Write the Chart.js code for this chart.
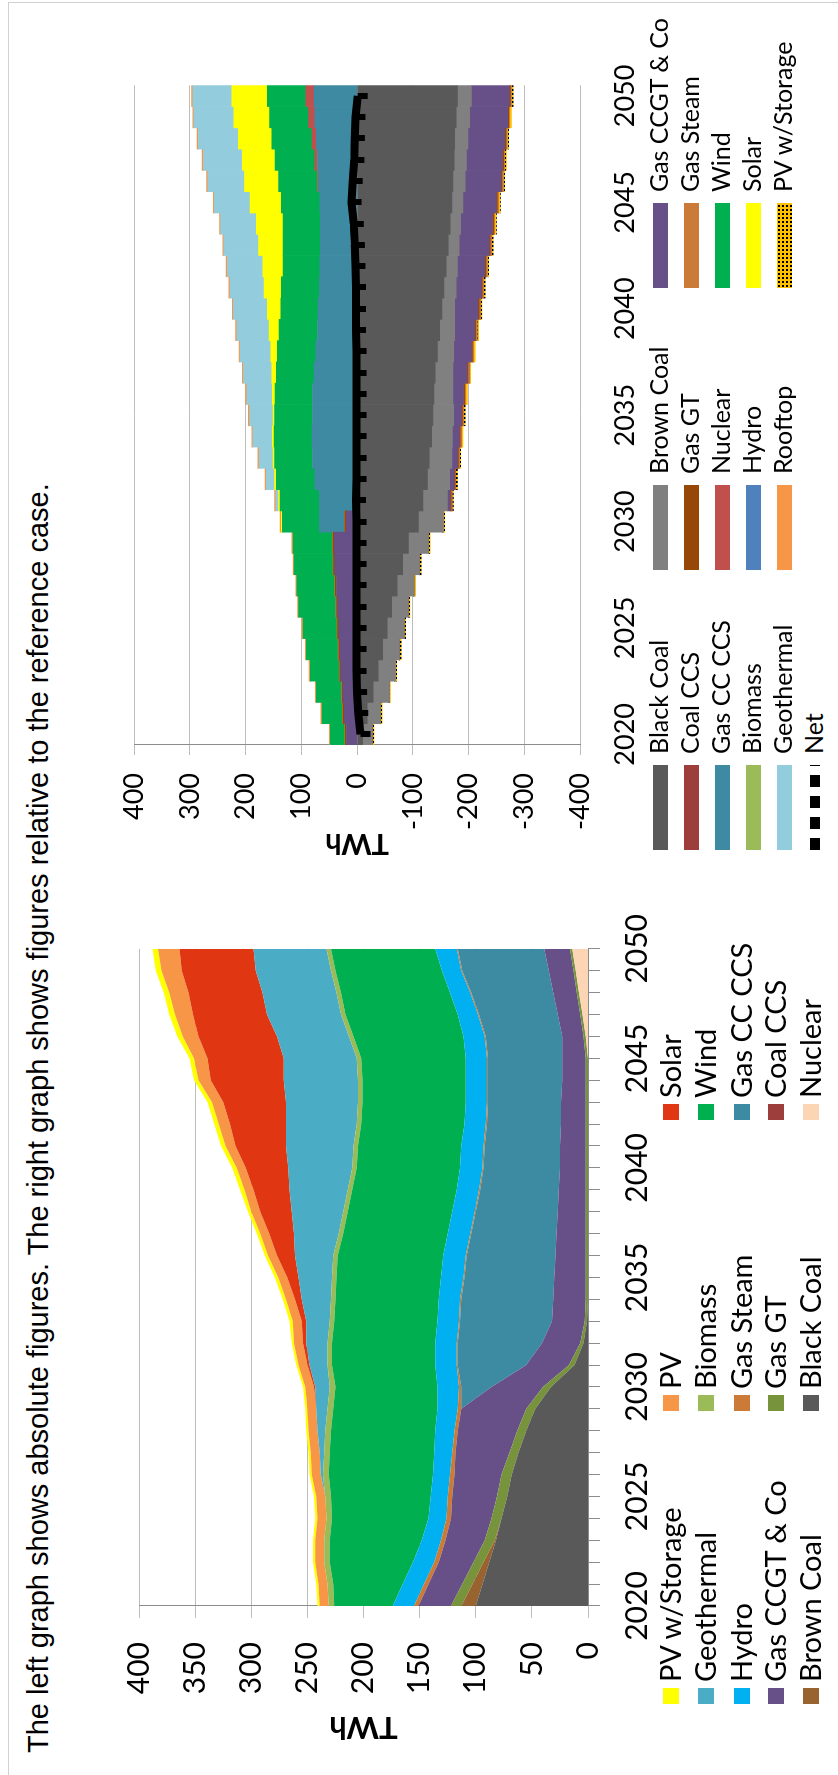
<!DOCTYPE html>
<html>
<head>
<meta charset="utf-8">
<script src="https://cdn.jsdelivr.net/npm/chart.js@4.4.1/dist/chart.umd.min.js"></script>
<style>
  html, body { margin: 0; padding: 0; background: #fff; }
  body { width: 838px; height: 1775px; overflow: hidden; position: relative; }
  .frame { position: absolute; background: #d0d0d0; }
  #land { position: absolute; left: 0; top: 0; width: 1775px; height: 838px;
          transform-origin: 0 0; transform: translate(0, 1775px) rotate(-90deg); }
  #title { position: absolute; left: 22px; top: 24px; white-space: nowrap;
           font-family: "Liberation Sans", Arial, sans-serif; font-size: 29px; line-height: 1; color: #000; }
  canvas { position: absolute; }
  .sw { position: absolute; }
  .lt { position: absolute; white-space: nowrap; font-family: Lato, sans-serif; color: #000; line-height: 1; }
</style>
</head>
<body>
<div class="frame" style="left:8px;top:2px;width:1px;height:1773px"></div>
<div class="frame" style="left:8px;top:2px;width:830px;height:1px"></div>
<div id="land">
  <div id="title">The left graph shows absolute figures. The right graph shows figures relative to the reference case.</div>
  <canvas id="absChart" width="880" height="563" style="left:0;top:97px"></canvas>
  <canvas id="relChart" width="860" height="560" style="left:880px;top:100px"></canvas>
  <div id="legAbs"></div>
  <div id="legRel"></div>
</div>
<script>
// categories
var years = [2020, 2021, 2022, 2023, 2024, 2025, 2026, 2027, 2028, 2029,
             2030, 2031, 2032, 2033, 2034, 2035, 2036, 2037, 2038, 2039,
             2040, 2041, 2042, 2043, 2044, 2045, 2046, 2047, 2048, 2049, 2050];
var absTicks = [0, 50, 100, 150, 200, 250, 300, 350, 400];
var relTicks = [-400, -300, -200, -100, 0, 100, 200, 300, 400];

// left graph, absolute TWh (stack order bottom -> top)
var absNuclear     = [0,0,0,0,0,0,0,0,0,0, 0,0,0,0,0,0,0,0,0,0, 0,0,0,0,0,0,2,5,8,11,14];
var absBlackCoal   = [100,94,88,82,77,72,68,62,55,47, 33,12,4,1,0,0,0,0,0,0, 0,0,0,0,0,0,0,0,0,0,0];
var absBrownCoal   = [13,9,5,1,0,0,0,0,0,0, 0,0,0,0,0,0,0,0,0,0, 0,0,0,0,0,0,0,0,0,0,0];
var absCoalCCS     = [0,0,0,0,0,0,0,0,0,0, 0,0,0,0,0,0,0,0,0,0, 0,0,0,0,0,0,0,0,0,0,0];
var absGasGT       = [9,9,9,9,9,9,9,8,8,8, 7,5,3,2,2,2,2,2,2,2, 2,2,2,2,2,2,2,2,2,2,2];
var absGasCCGT     = [29,30,31,35,36,40,42,48,53,58, 46,38,34,29,29,28,27,26,25,24, 23,23,22,22,21,21,19,20,21,22,23];
var absGasCCCCS    = [0,0,0,0,0,0,0,0,0,0, 27,61,75,82,82,80,79,76,73,70, 68,67,66,65,66,66,68,70,73,77,77];
var absGasSteam    = [4,4,4,4,4,4,4,3,3,3, 2,1,1,1,1,1,1,1,1,1, 1,1,1,1,1,1,1,1,1,1,1];
var absHydro       = [19,19,19,17,16,15,15,16,17,18, 19,19,19,19,19,20,20,20,20,20, 20,20,19,19,19,19,19,18,18,17,19];
var absWind        = [52,62,74,82,86,89,93,93,93,93, 91,92,92,92,92,93,94,93,93,93, 92,92,92,92,92,93,98,100,97,95,93];
var absBiomass     = [5,5,5,5,5,5,5,5,5,5, 5,4,4,4,4,4,4,4,4,4, 4,4,4,4,4,4,4,4,4,4,4];
var absGeothermal  = [0,0,0,0,0,0,2,4,7,10, 13,16,19,21,26,30,34,40,46,52, 57,60,63,64,66,65,64,66,66,67,65];
var absSolar       = [0,0,0,0,0,0,0,0,0,0, 1,2,3,4,6,10,16,22,28,32, 38,45,50,56,65,68,70,66,66,66,66];
var absPV          = [8,8,8,8,8,8,8,8,8,8, 8,8,8,8,8,8,8,8,8,8, 8,9,10,10,11,12,14,16,17,18,19];
var absPVStorage   = [2,2,2,2,2,2,2,2,2,2, 2,2,2,3,3,3,3,3,3,4, 4,4,4,4,4,4,5,5,5,5,5];

// right graph, TWh relative to the reference case
var relBlackCoal   = [-10,-18,-29,-38,-46,-54,-62,-72,-82,-92, -110,-118,-126,-130,-134,-136,-138,-140,-144,-148, -152,-156,-160,-164,-167,-170,-172,-174,-175,-178,-180];
var relBrownCoal   = [-17,-24,-28,-30,-30,-30,-30,-30,-30,-36, -44,-44,-40,-40,-37,-37,-34,-32,-29,-27, -23,-22,-20,-19,-19,-20,-22,-22,-24,-24,-25];
var relGasCCGT     = [19,23,25,29,31,33,35,37,40,41, 20,-5,-8,-10,-12,-14,-19,-25,-32,-36, -42,-45,-49,-54,-57,-60,-64,-65,-66,-68,-68];
var relCoalCCS     = [0,0,0,0,0,0,0,0,0,0, 0,0,0,0,0,0,0,0,0,0, 0,0,0,0,0,0,0,0,0,0,0];
var relGasGT       = [2,2,2,2,2,2,2,2,2,2, 2,-2,-2,-2,-2,-2,-2,-2,-2,-2, -2,-2,-2,-2,-2,-2,-2,-2,-2,-2,-2];
var relGasSteam    = [1,1,1,1,1,1,1,1,1,1, 1,-1,-1,-1,-2,-2,-2,-2,-2,-2, -2,-2,-2,-2,-2,-2,-2,-2,-2,-2,-2];
var relGasCCCCS    = [0,0,0,0,0,0,0,0,0,0, 45,68,76,80,81,80,80,77,74,71, 70,68,67,66,66,67,69,71,73,76,77];
var relNuclear     = [0,0,0,0,0,0,0,0,0,0, 0,0,0,0,0,0,0,0,0,0, 0,0,0,0,0,0,2,5,8,11,15];
var relWind        = [26,37,45,52,57,61,67,68,70,71, 66,70,69,68,68,68,67,68,69,69, 67,68,66,67,67,69,70,71,72,70,69];
var relBiomass     = [0,0,0,0,0,0,0,0,0,0, 0,0,0,0,0,0,0,0,0,0, 0,0,0,0,0,0,0,0,0,0,0];
var relHydro       = [0,0,0,0,0,0,0,0,0,0, 0,0,0,0,0,0,0,0,0,0, 0,0,0,0,0,0,0,0,0,0,0];
var relSolar       = [0,0,0,0,0,0,0,0,0,0, 2,3,3,3,3,3,5,8,12,18, 24,31,36,44,48,56,61,59,60,64,64];
var relGeothermal  = [0,0,0,0,0,0,0,0,0,0, 0,5,15,25,35,42,46,51,55,58, 61,61,64,62,64,64,66,70,72,72,70];
var relRooftop     = [2,2,2,2,2,2,2,2,2,2, 2,2,2,2,2,2,2,2,2,2, 2,2,2,2,2,2,2,2,2,2,2];
var relPVStorage   = [-3,-3,-3,-3,-3,-3,-3,-3,-3,-3, -3,-3,-3,-3,-3,-3,-3,-3,-3,-3, -3,-3,-3,-3,-3,-3,-3,-3,-3,-3,-3];
var relNet         = [-6,-2,0,1,1,1,1,1,1,1, 1,2,1,1,1,1,1,1,1,2, 2,2,3,4,6,10,8,5,4,3,-1];

// series lists
var absSeries = [
  ['Nuclear', absNuclear], ['Black Coal', absBlackCoal], ['Brown Coal', absBrownCoal],
  ['Coal CCS', absCoalCCS], ['Gas GT', absGasGT], ['Gas CCGT & Co', absGasCCGT],
  ['Gas CC CCS', absGasCCCCS], ['Gas Steam', absGasSteam], ['Hydro', absHydro],
  ['Wind', absWind], ['Biomass', absBiomass], ['Geothermal', absGeothermal],
  ['Solar', absSolar], ['PV', absPV], ['PV w/Storage', absPVStorage]
];
var relSeries = [
  ['Black Coal', relBlackCoal], ['Brown Coal', relBrownCoal], ['Gas CCGT & Co', relGasCCGT],
  ['Coal CCS', relCoalCCS], ['Gas GT', relGasGT], ['Gas Steam', relGasSteam],
  ['Gas CC CCS', relGasCCCCS], ['Nuclear', relNuclear], ['Wind', relWind],
  ['Biomass', relBiomass], ['Hydro', relHydro], ['Solar', relSolar],
  ['Geothermal', relGeothermal], ['Rooftop', relRooftop], ['PV w/Storage', relPVStorage]
];

var absColors = {
  'Nuclear': '#FCD5B5', 'Black Coal': '#595959', 'Brown Coal': '#98632F', 'Coal CCS': '#9E3E3C',
  'Gas GT': '#77933C', 'Gas CCGT & Co': '#675087', 'Gas CC CCS': '#3D8BA3', 'Gas Steam': '#CC7A37',
  'Hydro': '#00B0F0', 'Wind': '#00B050', 'Biomass': '#9BBB59', 'Geothermal': '#4BACC6',
  'Solar': '#E03612', 'PV': '#F79646', 'PV w/Storage': '#FFFF00'
};
var relColors = {
  'Black Coal': '#595959', 'Brown Coal': '#808080', 'Gas CCGT & Co': '#675087', 'Coal CCS': '#9E3E3C',
  'Gas GT': '#974806', 'Gas Steam': '#CC7A37', 'Gas CC CCS': '#3E8AA2', 'Nuclear': '#C0504D',
  'Wind': '#00B050', 'Biomass': '#9BBB59', 'Hydro': '#4F81BD', 'Solar': '#FFFF00',
  'Geothermal': '#93CDDD', 'Rooftop': '#F79646'
};

// dotted fill for PV w/Storage on the right graph
var pc = document.createElement('canvas');
pc.width = 4; pc.height = 4;
var px = pc.getContext('2d');
px.fillStyle = '#FFC000'; px.fillRect(0, 0, 4, 4);
px.fillStyle = '#000'; px.fillRect(0, 0, 2, 2);
relColors['PV w/Storage'] = px.createPattern(pc, 'repeat');

// notch marker for the Net line (sticks out to the negative side)
var notch = document.createElement('canvas');
notch.width = 6; notch.height = 26;
var nx = notch.getContext('2d');
nx.fillStyle = '#000'; nx.fillRect(0, 13, 6, 10);

Chart.defaults.font.family = 'Lato';
Chart.defaults.color = '#000';

function every5(value, index) {
  var y = years[index];
  return y % 5 === 0 ? String(y) : '';
}

// ---- left graph
var absDatasets = absSeries.map(function (s, i) {
  return {
    label: s[0], data: s[1],
    backgroundColor: absColors[s[0]], borderColor: absColors[s[0]], borderWidth: 0,
    pointRadius: 0, tension: 0, fill: i === 0 ? 'origin' : '-1'
  };
});

new Chart(document.getElementById('absChart'), {
  type: 'line',
  data: { labels: years, datasets: absDatasets },
  options: {
    responsive: false, animation: false, devicePixelRatio: 1,
    layout: { padding: { top: 20, right: 36, left: 0, bottom: 0 } },
    plugins: { legend: { display: false }, tooltip: { enabled: false } },
    scales: {
      x: {
        offset: false,
        grid: { drawOnChartArea: false, tickLength: 12, color: '#8c8c8c' },
        border: { color: '#8c8c8c' },
        ticks: { autoSkip: false, maxRotation: 0, padding: 19, font: { size: 30 }, callback: every5 },
        afterFit: function (s) { s.height = 72; }
      },
      y: {
        stacked: true, min: 0, max: 400,
        afterBuildTicks: function (s) { s.ticks = absTicks.map(function (v) { return { value: v }; }); },
        grid: { color: '#bdbdbd', tickLength: 12 },
        border: { color: '#8c8c8c' },
        ticks: { padding: 24, font: { size: 30 } },
        title: { display: true, text: 'TWh', font: { size: 31, weight: 'bold' }, padding: { top: 29, bottom: 0 } },
        afterFit: function (s) { s.width = 169; }
      }
    }
  }
});

// ---- right graph
var relDatasets = relSeries.map(function (s) {
  return {
    label: s[0], data: s[1], backgroundColor: relColors[s[0]], borderWidth: 0,
    categoryPercentage: 1, barPercentage: 1, order: 2
  };
});
relDatasets.push({
  type: 'line', label: 'Net', data: relNet, stack: 'net', order: 1,
  borderColor: '#000', borderWidth: 8, borderCapStyle: 'butt', borderJoinStyle: 'round',
  pointStyle: notch, pointRadius: 6, tension: 0, fill: false
});

new Chart(document.getElementById('relChart'), {
  type: 'bar',
  data: { labels: years, datasets: relDatasets },
  options: {
    responsive: false, animation: false, devicePixelRatio: 1,
    layout: { padding: { top: 20, right: 36, left: 0, bottom: 0 } },
    plugins: { legend: { display: false }, tooltip: { enabled: false } },
    scales: {
      x: {
        stacked: true,
        grid: { drawOnChartArea: false, drawTicks: false },
        border: { display: false },
        ticks: { autoSkip: false, maxRotation: 0, padding: 29, font: { size: 27 }, callback: every5 },
        afterFit: function (s) { s.height = 80; }
      },
      y: {
        stacked: true, min: -400, max: 400,
        afterBuildTicks: function (s) { s.ticks = relTicks.map(function (v) { return { value: v }; }); },
        grid: { color: '#bdbdbd', tickLength: 10 },
        border: { color: '#8c8c8c' },
        ticks: { padding: 18, font: { size: 27 } },
        title: { display: true, text: 'TWh', font: { size: 29, weight: 'bold' }, padding: { top: 34, bottom: 0 } },
        afterFit: function (s) { s.width = 150; }
      }
    }
  }
});

// ---- legends (built from the series lists)
var legAbs = document.getElementById('legAbs');
var absColX = [71, 364, 655], absRowY = [671, 706, 742, 776, 811];
absSeries.slice().reverse().forEach(function (s, k) {
  var c = k % 3, r = Math.floor(k / 3);
  var sw = document.createElement('div');
  sw.className = 'sw';
  sw.style.cssText = 'left:' + absColX[c] + 'px;top:' + (absRowY[r] - 8) + 'px;width:16px;height:16px;background:' + absColors[s[0]];
  legAbs.appendChild(sw);
  var t = document.createElement('div');
  t.className = 'lt';
  t.style.cssText = 'left:' + (absColX[c] + 22) + 'px;top:' + (absRowY[r] - 16) + 'px;font-size:29px';
  t.textContent = s[0];
  legAbs.appendChild(t);
});

var legRel = document.getElementById('legRel');
var relColX = [925, 1205, 1487], relRowY = [660, 691, 722, 753, 784, 815];
relSeries.concat([['Net', relNet]]).forEach(function (s, k) {
  var c = k % 3, r = Math.floor(k / 3);
  var sw = document.createElement('div');
  sw.className = 'sw';
  var bg;
  if (s[0] === 'Net') {
    bg = 'height:10px;top:' + (relRowY[r] - 5) + 'px;background:repeating-linear-gradient(90deg,#000 0 12px,transparent 12px 21px)';
  } else if (s[0] === 'PV w/Storage') {
    bg = 'height:15px;top:' + (relRowY[r] - 7) + 'px;background-color:#FFC000;background-image:radial-gradient(#000 35%,transparent 40%);background-size:4px 4px';
  } else {
    bg = 'height:15px;top:' + (relRowY[r] - 7) + 'px;background:' + relColors[s[0]];
  }
  sw.style.cssText = 'left:' + relColX[c] + 'px;width:85px;' + bg;
  legRel.appendChild(sw);
  var t = document.createElement('div');
  t.className = 'lt';
  t.style.cssText = 'left:' + (relColX[c] + 96) + 'px;top:' + (relRowY[r] - 14) + 'px;font-size:25px';
  t.textContent = s[0];
  legRel.appendChild(t);
});
</script>
</body>
</html>
